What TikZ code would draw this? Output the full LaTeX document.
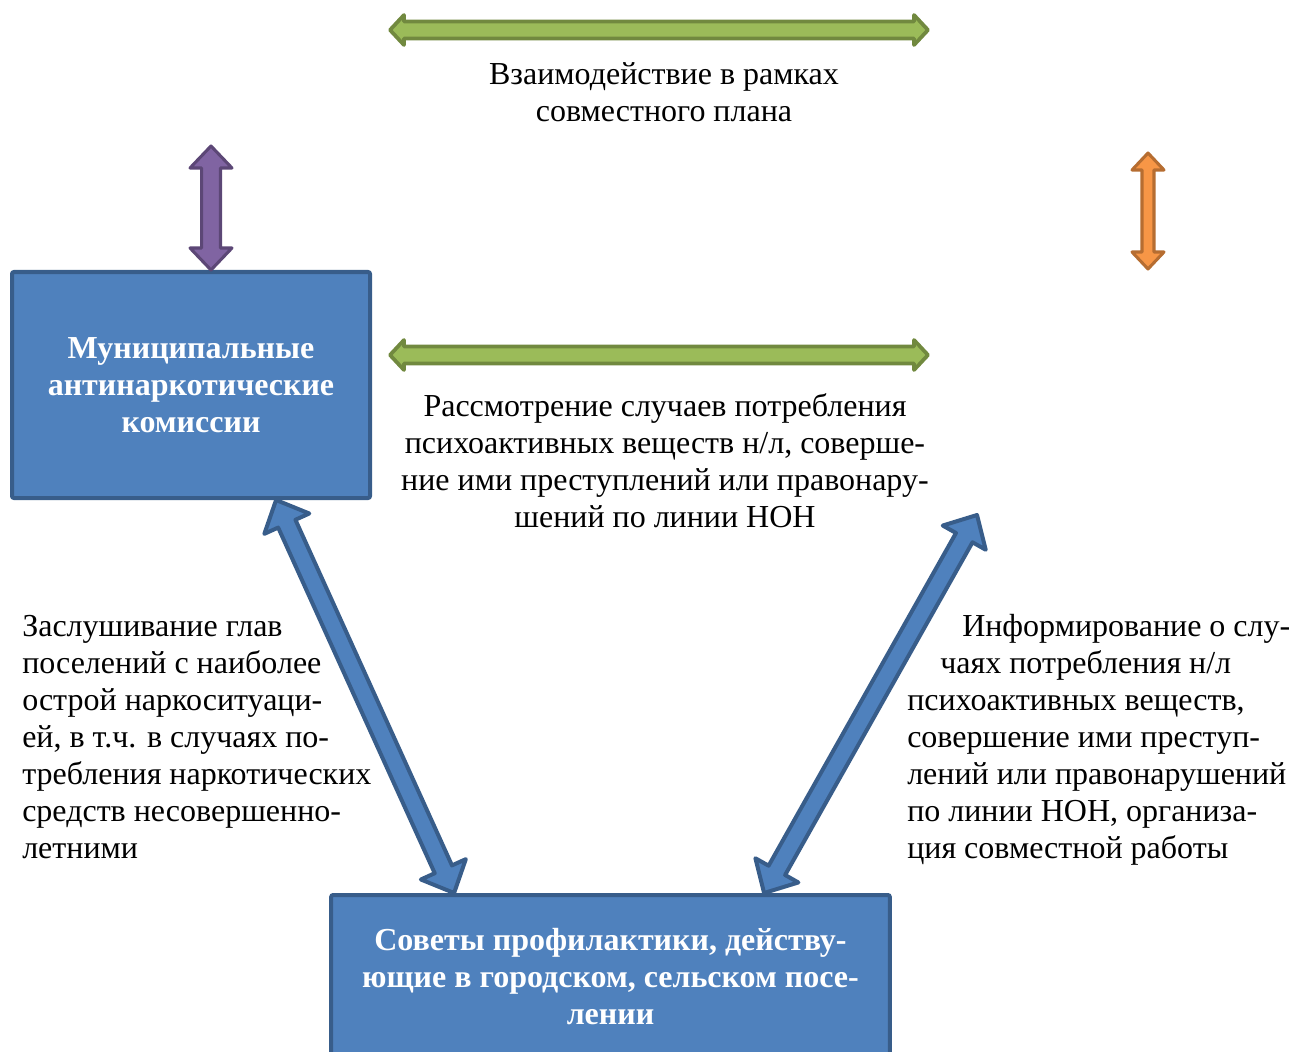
\documentclass[tikz,border=0pt]{standalone}
\usepackage{fontspec}
\setmainfont{Liberation Serif}
\usetikzlibrary{calc}

\definecolor{boxfill}{RGB}{79,129,189}
\definecolor{boxline}{RGB}{56,93,138}
\definecolor{grnfill}{RGB}{155,187,89}
\definecolor{grnline}{RGB}{113,137,63}
\definecolor{purfill}{RGB}{128,100,162}
\definecolor{purline}{RGB}{92,71,118}
\definecolor{orgfill}{RGB}{247,150,70}
\definecolor{orgline}{RGB}{182,109,49}

% block arrow with two heads: [style]{from}{to}{half shaft}{half head}{head length}
\newcommand{\blockarrow}[6][]{%
  \path (#2) coordinate (ba) (#3) coordinate (bb);
  \path ($(ba)!#6!(bb)$) coordinate (bp) ($(bb)!#6!(ba)$) coordinate (bq);
  \draw[#1] (ba) -- ($(bp)!#5!90:(bb)$) -- ($(bp)!#4!90:(bb)$)
    -- ($(bq)!#4!-90:(ba)$) -- ($(bq)!#5!-90:(ba)$) -- (bb)
    -- ($(bq)!#5!90:(ba)$) -- ($(bq)!#4!90:(ba)$)
    -- ($(bp)!#4!-90:(bb)$) -- ($(bp)!#5!-90:(bb)$) -- cycle;
}

\tikzset{
  txt/.style={inner sep=0pt, font=\fontsize{24}{27.75}\selectfont},
  lbl/.style={txt, align=center},
  box/.style={txt, align=center, font=\fontsize{24}{27.75}\selectfont\bfseries,
    text=white, fill=boxfill, draw=boxline, line width=3pt, rounded corners=1.5pt},
  bluearr/.style={fill=boxfill, draw=boxline, line width=3pt, line join=round},
  grnarr/.style={fill=grnfill, draw=grnline, line width=2.8pt, line join=round},
  purarr/.style={fill=purfill, draw=purline, line width=2.3pt, line join=round},
  orgarr/.style={fill=orgfill, draw=orgline, line width=2.3pt, line join=round},
}

\begin{document}
\begin{tikzpicture}[x=0.75pt,y=0.75pt,yscale=-1]
\useasboundingbox (0,0) rectangle (1293,1052);
\clip (0,0) rectangle (1293,1052);

%Boxes
\draw (191,385) node (munic) [box, minimum width=268.5pt, minimum height=169.5pt]
  {Муниципальные\\антинаркотические\\комиссии};
\draw (610.5,977) node (sovet) [box, minimum width=419pt, minimum height=123pt]
  {Советы профилактики, действу-\\ющие в городском, сельском посе-\\лении};

%Free ends of arrows
\coordinate (gA1) at (390,30);
\coordinate (gB1) at (928,30);
\coordinate (gA2) at (390,355);
\coordinate (gB2) at (928,355);
\coordinate (pTop) at (211,146);
\coordinate (oTop) at (1148,153);
\coordinate (oBot) at (1148,269);
\coordinate (rTop) at (977,515);

%Arrows
\blockarrow[grnarr]{gA1}{gB1}{6.4pt}{11.25pt}{10.5pt}
\blockarrow[grnarr]{gA2}{gB2}{6.4pt}{11.25pt}{10.5pt}
\blockarrow[purarr]{pTop}{$(munic.north)+(20,0)$}{7.1pt}{15.75pt}{16.5pt}
\blockarrow[orgarr]{oTop}{oBot}{4.5pt}{12pt}{12.75pt}
\blockarrow[bluearr]{$(munic.south east)!0.265!(munic.south west)$}{$(sovet.north west)!0.222!(sovet.north east)$}{7.1pt}{18.5pt}{19.5pt}
\blockarrow[bluearr]{rTop}{$(sovet.north west)!0.773!(sovet.north east)$}{7.1pt}{18.5pt}{19.5pt}

% Text Node
\draw (664,92.5) node (plan) [lbl] {Взаимодействие в рамках\\совместного плана};
% Text Node
\draw (665,460.5) node (case) [lbl] {Рассмотрение случаев потребления\\психоактивных веществ н/л, соверше-\\ние ими преступлений или правонару-\\шений по линии НОН};
% Text Node
\draw (22,737) node (hear) [txt, anchor=west, align=left] {Заслушивание глав\\поселений с наиболее\\острой наркоситуаци-\\ей, в т.ч. в случаях по-\\требления наркотических\\средств несовершенно-\\летними};
% Text Node
\draw (907,740) node (info) [txt, anchor=west, align=left] {\hspace*{41.25pt}Информирование о слу-\\\hspace*{24.75pt}чаях потребления н/л\\психоактивных веществ,\\совершение ими преступ-\\лений или правонарушений\\по линии НОН, организа-\\ция совместной работы};

\end{tikzpicture}
\end{document}
